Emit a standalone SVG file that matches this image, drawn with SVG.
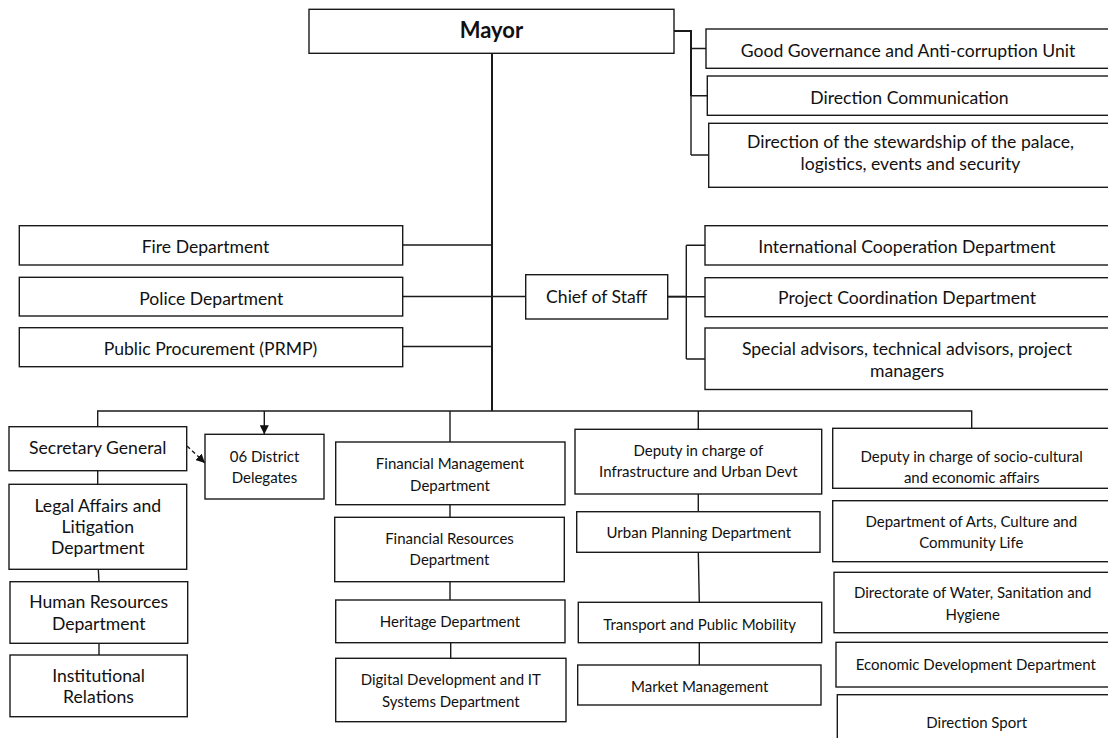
<svg xmlns="http://www.w3.org/2000/svg" width="1108" height="738" viewBox="0 0 1108 738">
<style>
.b{fill:#fff;stroke:#1a1a1a;stroke-width:1.4}
.t{font-family:Lato,"Liberation Sans",sans-serif;font-size:17.6px;fill:#111;text-anchor:middle}
.s{font-size:15px}
.c{fill:none;stroke:#1a1a1a;stroke-width:1.4}
.k{stroke-width:2}
.d{stroke-dasharray:4 3}
</style>
<defs>
<marker id="ah" viewBox="0 0 10 10" refX="10" refY="5" markerWidth="9" markerHeight="9" markerUnits="userSpaceOnUse" orient="auto">
<path d="M0,0 L10,5 L0,10 z" fill="#111"/>
</marker>
</defs>
<rect width="1108" height="738" fill="#fff"/>
<g id="connectors">
<path class="c k" d="M492,53 V411"/>
<path class="c k" d="M674,31 H691 V96"/>
<path class="c" d="M691,96 V155"/>
<path class="c" d="M691,48.5 H706 M691,95.7 H707.3 M691,155 H708.7"/>
<path class="c" d="M403,245 H492 M403,296.5 H525.7 M403,346.5 H492"/>
<path class="c k" d="M667.7,296.7 H686.3"/>
<path class="c" d="M686.3,245.3 V359 M686.3,245.3 H705 M686.3,296.7 H705 M686.3,359 H705"/>
<path class="c" d="M97.7,426.7 V411 H971.7 V428.3"/>
<path class="c" d="M264.3,411 V434.3" marker-end="url(#ah)"/>
<path class="c" d="M450,411 V442 M698.3,411 V429.3"/>
<path class="c d" d="M187,446 L205,463" marker-end="url(#ah)"/>
<path class="c" d="M97.7,470.7 V484.3 M98.3,569.3 L99,581.7 M99,643.3 V655"/>
<path class="c" d="M450,504.7 V517.3 M450,581.7 V600 M450.7,642.7 V658.3"/>
<path class="c" d="M698.3,494 V511.7 M698.3,552.3 L699.3,602.3 M699.3,642.7 V665"/>
</g>
<g id="mayor"><rect class="b" x="309" y="9.3" width="365" height="44"/><text class="t" x="491.5" y="37.5" style="font-weight:bold;font-size:22px">Mayor</text></g>
<g id="good-governance"><rect class="b" x="706" y="29" width="405" height="39.3"/><text class="t" x="908" y="57">Good Governance and Anti-corruption Unit</text></g>
<g id="direction-communication"><rect class="b" x="707.3" y="76" width="404" height="39.3"/><text class="t" x="909.5" y="103.5">Direction Communication</text></g>
<g id="stewardship"><rect class="b" x="708.7" y="123.3" width="403" height="64"/><text class="t" x="910.5" y="148.3">Direction of the stewardship of the palace,</text><text class="t" x="910.5" y="170">logistics, events and security</text></g>
<g id="fire"><rect class="b" x="19.3" y="225.7" width="383.4" height="39.3"/><text class="t" x="205.5" y="253">Fire Department</text></g>
<g id="police"><rect class="b" x="19.3" y="277.3" width="383.4" height="38.7"/><text class="t" x="211.3" y="305">Police Department</text></g>
<g id="procurement"><rect class="b" x="19.3" y="327.7" width="383.4" height="39"/><text class="t" x="210.5" y="355">Public Procurement (PRMP)</text></g>
<g id="chief-of-staff"><rect class="b" x="525.7" y="274.7" width="142" height="44.3"/><text class="t" x="596.7" y="302.5">Chief of Staff</text></g>
<g id="international"><rect class="b" x="705" y="225.7" width="405" height="39.3"/><text class="t" x="907" y="252.5">International Cooperation Department</text></g>
<g id="project-coordination"><rect class="b" x="705" y="277.7" width="405" height="39"/><text class="t" x="907" y="304">Project Coordination Department</text></g>
<g id="special-advisors"><rect class="b" x="705" y="328" width="405" height="61.5"/><text class="t" x="907" y="355">Special advisors, technical advisors, project</text><text class="t" x="907" y="376.5">managers</text></g>
<g id="secretary-general"><rect class="b" x="9" y="426.7" width="177.7" height="44"/><text class="t" x="97.7" y="453.5">Secretary General</text></g>
<g id="legal"><rect class="b" x="9" y="484.3" width="177.7" height="85"/><text class="t" x="97.8" y="511.7">Legal Affairs and</text><text class="t" x="97.8" y="533">Litigation</text><text class="t" x="97.8" y="554.3">Department</text></g>
<g id="human-resources"><rect class="b" x="10" y="581.7" width="177.7" height="61.6"/><text class="t" x="98.7" y="608.3">Human Resources</text><text class="t" x="98.7" y="630">Department</text></g>
<g id="institutional"><rect class="b" x="10" y="655" width="177.3" height="61.7"/><text class="t" x="98.5" y="681.7">Institutional</text><text class="t" x="98.5" y="703.3">Relations</text></g>
<g id="district-delegates"><rect class="b" x="205" y="434.3" width="119" height="64.7"/><text class="t s" x="264.5" y="461.7">06 District</text><text class="t s" x="264.5" y="483.3">Delegates</text></g>
<g id="financial-management"><rect class="b" x="335.7" y="442" width="229.3" height="62.7"/><text class="t s" x="450" y="469.3">Financial Management</text><text class="t s" x="450" y="490.7">Department</text></g>
<g id="financial-resources"><rect class="b" x="334.7" y="517.3" width="229.6" height="64.4"/><text class="t s" x="449.5" y="544">Financial Resources</text><text class="t s" x="449.5" y="565">Department</text></g>
<g id="heritage"><rect class="b" x="335.7" y="600" width="229.3" height="42.7"/><text class="t s" x="450" y="626.7">Heritage Department</text></g>
<g id="digital"><rect class="b" x="335.7" y="658.3" width="230.3" height="63.4"/><text class="t s" x="450.8" y="685">Digital Development and IT</text><text class="t s" x="450.8" y="706.7">Systems Department</text></g>
<g id="deputy-infrastructure"><rect class="b" x="575" y="429.3" width="246.7" height="64.7"/><text class="t s" x="698.3" y="456">Deputy in charge of</text><text class="t s" x="698.3" y="477.3">Infrastructure and Urban Devt</text></g>
<g id="urban-planning"><rect class="b" x="576.7" y="511.7" width="243.3" height="40.6"/><text class="t s" x="698.8" y="538.3">Urban Planning Department</text></g>
<g id="transport"><rect class="b" x="578.3" y="602.3" width="243.4" height="40.4"/><text class="t s" x="699.7" y="630">Transport and Public Mobility</text></g>
<g id="market"><rect class="b" x="577.7" y="665" width="243.3" height="40"/><text class="t s" x="699.7" y="691.7">Market Management</text></g>
<g id="deputy-socio"><rect class="b" x="832.7" y="428.3" width="278" height="60"/><text class="t s" x="971.7" y="462.3">Deputy in charge of socio-cultural</text><text class="t s" x="971.7" y="483.3">and economic affairs</text></g>
<g id="arts"><rect class="b" x="832.7" y="500.7" width="278" height="61"/><text class="t s" x="971.3" y="527">Department of Arts, Culture and</text><text class="t s" x="971.3" y="548.3">Community Life</text></g>
<g id="water"><rect class="b" x="834" y="572.3" width="278" height="60.4"/><text class="t s" x="972.7" y="598.3">Directorate of Water, Sanitation and</text><text class="t s" x="972.7" y="620">Hygiene</text></g>
<g id="economic"><rect class="b" x="836" y="642.3" width="278" height="44.7"/><text class="t s" x="975.8" y="670">Economic Development Department</text></g>
<g id="sport"><rect class="b" x="837.3" y="694.7" width="278" height="60"/><text class="t s" x="976.7" y="728">Direction Sport</text></g>
</svg>
